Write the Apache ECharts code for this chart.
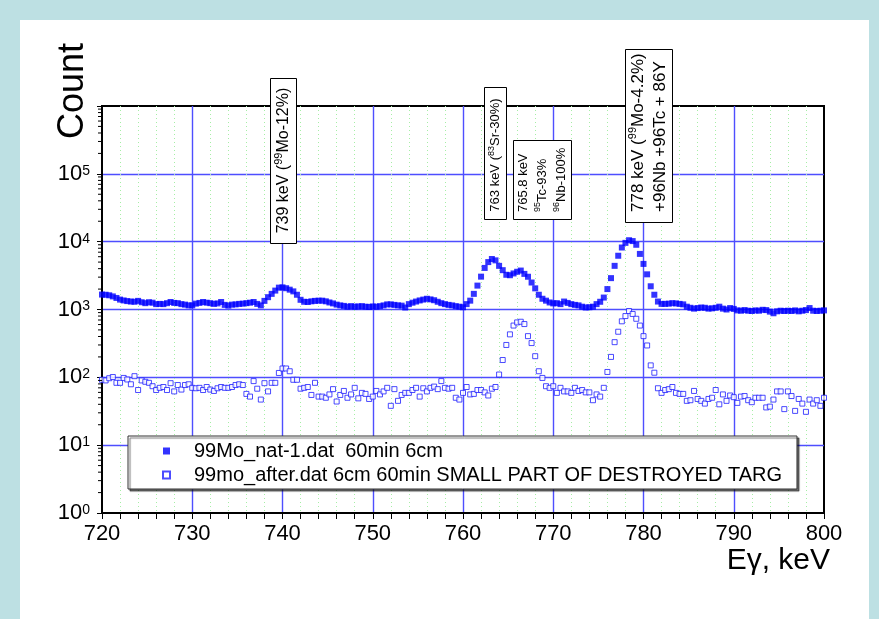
<!DOCTYPE html>
<html><head><meta charset="utf-8">
<script src="https://cdn.jsdelivr.net/npm/echarts@6/dist/echarts.min.js"></script>
<style>
html,body{margin:0;padding:0;background:#bde0e3;width:879px;height:619px;overflow:hidden}
#chart{position:absolute;left:20px;top:20px;width:849px;height:599px;background:#fff}
</style></head><body><div id="chart"></div>
<script>
// Energy channels (keV)
const energies = [
720.0,720.4,720.8,721.2,721.6,722.0,722.4,722.8,723.2,723.6,
724.0,724.4,724.8,725.2,725.6,726.0,726.4,726.8,727.2,727.6,
728.0,728.4,728.8,729.2,729.6,730.0,730.4,730.8,731.2,731.6,
732.0,732.4,732.8,733.2,733.6,734.0,734.4,734.8,735.2,735.6,
736.0,736.4,736.8,737.2,737.6,738.0,738.4,738.8,739.2,739.6,
740.0,740.4,740.8,741.2,741.6,742.0,742.4,742.8,743.2,743.6,
744.0,744.4,744.8,745.2,745.6,746.0,746.4,746.8,747.2,747.6,
748.0,748.4,748.8,749.2,749.6,750.0,750.4,750.8,751.2,751.6,
752.0,752.4,752.8,753.2,753.6,754.0,754.4,754.8,755.2,755.6,
756.0,756.4,756.8,757.2,757.6,758.0,758.4,758.8,759.2,759.6,
760.0,760.4,760.8,761.2,761.6,762.0,762.4,762.8,763.2,763.6,
764.0,764.4,764.8,765.2,765.6,766.0,766.4,766.8,767.2,767.6,
768.0,768.4,768.8,769.2,769.6,770.0,770.4,770.8,771.2,771.6,
772.0,772.4,772.8,773.2,773.6,774.0,774.4,774.8,775.2,775.6,
776.0,776.4,776.8,777.2,777.6,778.0,778.4,778.8,779.2,779.6,
780.0,780.4,780.8,781.2,781.6,782.0,782.4,782.8,783.2,783.6,
784.0,784.4,784.8,785.2,785.6,786.0,786.4,786.8,787.2,787.6,
788.0,788.4,788.8,789.2,789.6,790.0,790.4,790.8,791.2,791.6,
792.0,792.4,792.8,793.2,793.6,794.0,794.4,794.8,795.2,795.6,
796.0,796.4,796.8,797.2,797.6,798.0,798.4,798.8,799.2,799.6,
800.0
];
// 99Mo_nat-1.dat counts (filled squares)
const natCounts = [
1660,1650,1620,1560,1480,1400,1360,1330,1310,1300,
1340,1280,1240,1280,1260,1200,1210,1200,1240,1290,
1250,1240,1200,1180,1150,1150,1220,1250,1290,1260,
1240,1210,1230,1290,1170,1140,1180,1190,1210,1220,
1240,1260,1290,1210,1150,1340,1520,1700,1900,2100,
2120,2060,1960,1850,1650,1390,1300,1290,1320,1340,
1350,1350,1320,1270,1230,1180,1150,1130,1100,1120,
1100,1110,1120,1100,1090,1110,1100,1120,1150,1190,
1190,1170,1150,1140,1070,1200,1260,1310,1360,1400,
1440,1410,1370,1300,1240,1200,1170,1150,1120,1100,
1080,1200,1350,1700,2250,3050,4100,5000,5550,5300,
4400,3800,3250,3200,3400,3600,3750,3350,3040,2500,
2050,1650,1440,1350,1270,1230,1240,1200,1310,1250,
1200,1170,1150,1100,1070,1080,1100,1200,1300,1500,
2000,2900,4400,6200,8200,9600,10500,10200,9000,6600,
4700,3300,2200,1650,1310,1210,1210,1220,1240,1230,
1210,1190,1100,1060,1030,1050,1070,1060,1030,1040,
1060,1100,1030,1000,1050,1020,970,960,980,960,
950,970,960,990,980,930,880,940,960,950,
960,950,970,940,960,980,1050,960,950,960,
970
];
// 99mo_after.dat counts (open squares)
const afterCounts = [
92,90,97,101,83,83,98,93,79,104,
65,90,86,83,74,65,70,72,65,82,
62,77,66,77,79,70,69,70,65,72,
66,63,69,72,70,70,72,77,79,77,
57,52,88,68,47,82,62,83,83,116,
135,135,123,92,92,68,70,72,55,83,
52,52,50,56,67,44,55,63,50,56,
70,49,59,57,48,52,63,56,62,70,
38,67,45,55,59,59,65,70,52,69,
62,70,73,67,88,70,68,70,50,47,
59,72,56,57,65,65,60,54,68,72,
110,180,300,430,580,645,660,610,405,320,
205,123,98,74,70,74,59,70,62,62,
59,70,63,65,60,60,46,56,52,70,
120,200,330,470,670,800,950,860,730,580,
405,295,150,117,69,59,65,67,72,59,
57,57,45,46,63,48,45,41,48,50,
65,40,56,45,54,51,42,52,53,46,
43,50,50,50,36,37,47,62,62,34,
62,53,32,48,41,31,47,41,46,38,
50
];
const seriesNames = ['99Mo_nat-1.dat  60min 6cm', '99mo_after.dat 6cm 60min SMALL PART OF DESTROYED TARG'];
const yMinorTicks = [
2,3,4,5,6,7,8,9,
20,30,40,50,60,70,80,90,
200,300,400,500,600,700,800,900,
2000,3000,4000,5000,6000,7000,8000,9000,
20000,30000,40000,50000,60000,70000,80000,90000,
200000,300000,400000,500000,600000,700000,800000,900000
];
const xAxisTitle = 'E\u03b3, keV';
const yAxisTitle = 'Count';
// Peak annotations: anchor energy (keV) and text lines
const peakLabels = [
  {energy: 740.0, lines: ['739 keV ({s|99}Mo-12%)']},
  {energy: 763.6, lines: ['763 keV ({s|83}Sr-30%)']},
  {energy: 768.8, lines: ['765.8 keV', '{s|95}Tc-93%', '{s|96}Nb-100%']},
  {energy: 780.6, lines: ['778 keV ({s|99}Mo-4.2%)', '+96Nb +96Tc + 86Y']}
];
// box layout (pixels) for each annotation
const peakBoxes = [
  {w: 26, top: 58, bottom: 223, fs: 16, sup: 11, lh: 20, mode: 'center', cy: 140.5},
  {w: 22, top: 67, bottom: 199, fs: 13, sup: 9, lh: 16, mode: 'center', cy: 135},
  {w: 58, top: 120, bottom: 199, fs: 13, sup: 9, lh: 19, mode: 'left', pad: 7},
  {w: 47, top: 29, bottom: 202, fs: 17, sup: 11, lh: 22, mode: 'left', pad: 10}
];

const FONT = "'Liberation Sans', Arial, sans-serif";
const chart = echarts.init(document.getElementById('chart'), null, {renderer: 'canvas'});

const option = {
  animation: false,
  backgroundColor: '#fff',
  grid: {left: 82, top: 86, right: 45, bottom: 106, show: true, borderColor: '#000', borderWidth: 2, backgroundColor: 'transparent'},
  xAxis: {
    type: 'value', min: 720, max: 800, interval: 10,
    axisLine: {show: true, onZero: false, lineStyle: {color: '#000', width: 2}},
    axisTick: {show: true, inside: false, length: 6, lineStyle: {color: '#000', width: 1}},
    minorTick: {show: true, splitNumber: 5, length: 6, lineStyle: {color: '#000', width: 1}},
    axisLabel: {fontSize: 22, fontFamily: FONT, color: '#000', margin: 10},
    splitLine: {show: true, showMinLine: false, showMaxLine: false, lineStyle: {color: '#4e4eff', width: 1.4}},
    minorSplitLine: {show: true, lineStyle: {color: '#a6eea6', type: [1, 3], width: 1}}
  },
  yAxis: {
    type: 'log', logBase: 10, min: 1, max: 1000000,
    axisLine: {show: true, onZero: false, lineStyle: {color: '#000', width: 2}},
    axisTick: {show: true, inside: false, length: 5, lineStyle: {color: '#000', width: 1}},
    axisLabel: {
      margin: 12, color: '#000', fontFamily: FONT,
      formatter: function (v) {
        const e = Math.round(Math.log10(v));
        if (e >= 6) return '';
        return '{b|10}{e|' + e + '}';
      },
      rich: {
        b: {fontSize: 22, fontFamily: FONT, color: '#000'},
        e: {fontSize: 14, fontFamily: FONT, color: '#000', verticalAlign: 'top', padding: [1, 0, 0, 0]}
      }
    },
    splitLine: {show: true, showMinLine: false, showMaxLine: false, lineStyle: {color: '#4e4eff', width: 1.4}},
    minorTick: {show: false},
    minorSplitLine: {show: false}
  },
  legend: {
    data: [{name: seriesNames[0], icon: 'rect'}, {name: seriesNames[1], icon: 'rect'}],
    orient: 'vertical', left: 108, top: 416,
    itemWidth: 7, itemHeight: 7, itemGap: 4,
    padding: [5, 15, 4, 34],
    backgroundColor: '#fff', borderColor: '#333', borderWidth: 1,
    shadowColor: 'rgba(0,0,0,0.55)', shadowOffsetX: 2, shadowOffsetY: 2, shadowBlur: 1,
    selectedMode: false, z: 20,
    textStyle: {fontSize: 20, fontFamily: FONT, color: '#000', lineHeight: 20, padding: [0, 0, 0, 19]}
  },
  series: [
    {
      name: seriesNames[0], type: 'scatter', symbol: 'rect', symbolSize: 6,
      data: energies.map((e, i) => [e, natCounts[i]]),
      itemStyle: {color: '#0000ff'}, z: 3
    },
    {
      name: seriesNames[1], type: 'scatter', symbol: 'rect', symbolSize: 5,
      data: energies.map((e, i) => [e, afterCounts[i]]),
      itemStyle: {color: '#ffffff', borderColor: '#1e1eff', borderWidth: 1}, z: 4
    },
    {
      name: 'yMinorTicks', type: 'custom', silent: true, clip: false, z: 6,
      data: yMinorTicks.map(v => [720, v]),
      renderItem: function (params, api) {
        const p = api.coord([api.value(0), api.value(1)]);
        return {type: 'line', shape: {x1: p[0] - 4, y1: p[1], x2: p[0], y2: p[1]}, style: {stroke: '#000', lineWidth: 1}};
      }
    }
  ]
};
chart.setOption(option);

const graphics = [
  {type: 'text', x: 53.5, y: 71, rotation: Math.PI / 2, z: 100,
   style: {text: yAxisTitle, fontSize: 36, fontFamily: FONT, fill: '#000', align: 'center', verticalAlign: 'middle', textAlign: 'center', textVerticalAlign: 'middle'}},
  {type: 'text', x: 810, y: 541, z: 100,
   style: {text: xAxisTitle, fontSize: 30, fontFamily: FONT, fill: '#000', align: 'right', verticalAlign: 'middle', textAlign: 'right', textVerticalAlign: 'middle'}}
];
peakLabels.forEach((pk, i) => {
  const b = peakBoxes[i];
  const cx = Math.round(chart.convertToPixel({xAxisIndex: 0}, pk.energy));
  const left = cx - Math.round(b.w / 2) + 0.5;
  graphics.push({type: 'rect', z: 100,
    shape: {x: left, y: b.top + 0.5, width: b.w, height: b.bottom - b.top},
    style: {fill: '#fff', stroke: '#000', lineWidth: 1}});
  const isCenter = b.mode === 'center';
  graphics.push({type: 'text', z: 101, rotation: Math.PI / 2,
    x: cx + 0.5, y: isCenter ? b.cy : b.bottom - b.pad,
    style: {
      text: pk.lines.join('\n'), fontSize: b.fs, fontFamily: FONT, fill: '#000', lineHeight: b.lh,
      align: isCenter ? 'center' : 'left', verticalAlign: 'middle',
      textAlign: isCenter ? 'center' : 'left', textVerticalAlign: 'middle',
      rich: {s: {fontSize: b.sup, fontFamily: FONT, fill: '#000', verticalAlign: 'top', lineHeight: b.lh}}
    }});
});
chart.setOption({graphic: {elements: graphics}});
</script></body></html>
